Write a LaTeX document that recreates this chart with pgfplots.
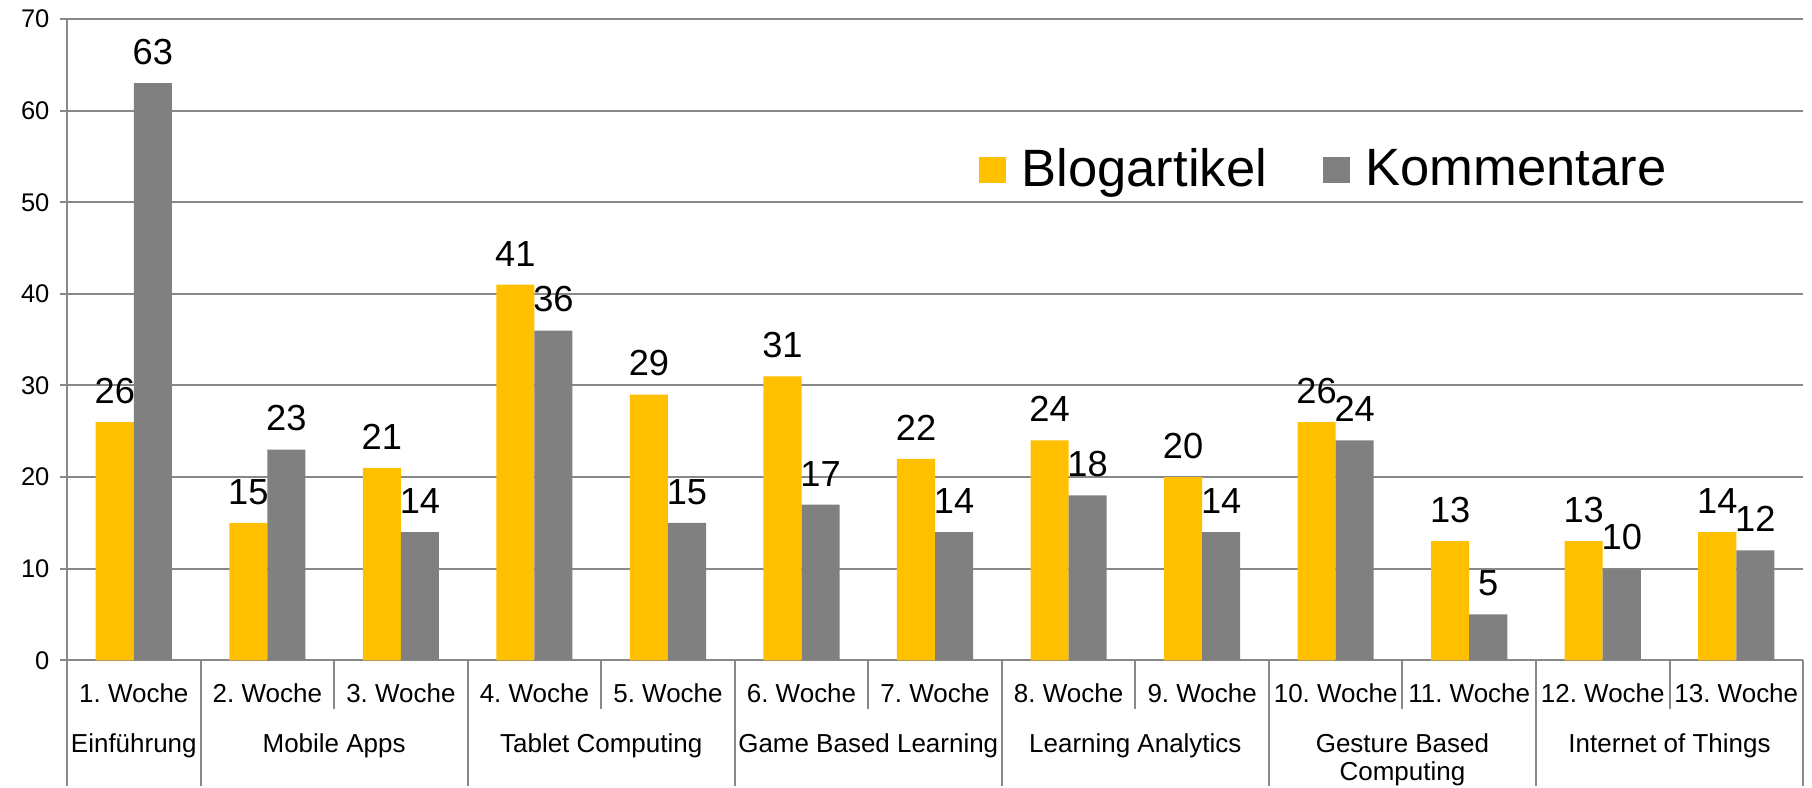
\documentclass[border=0pt]{standalone}
\usepackage{fontspec}
\setmainfont{Liberation Sans}
\usepackage{pgfplots}
\pgfplotsset{compat=1.18}
\frenchspacing

\definecolor{gelb}{HTML}{FFC000}
\definecolor{grau}{HTML}{808080}
\definecolor{linie}{HTML}{888888}

\begin{document}
\begin{tikzpicture}
\begin{axis}[
    scale only axis,
    width=574.8pt, height=212.3pt,
    xmin=-0.5, xmax=12.5,
    ymin=0, ymax=70,
    ytick={0,10,...,70},
    xtick={0,...,12},
    xticklabels={1. Woche,2. Woche,3. Woche,4. Woche,5. Woche,6. Woche,7. Woche,
                 8. Woche,9. Woche,10. Woche,11. Woche,12. Woche,13. Woche},
    xticklabel style={font=\fontsize{8.6}{10}\selectfont, anchor=base, yshift=-11.8pt},
    yticklabel style={font=\fontsize{8.45}{10}\selectfont},
    /pgf/number format/assume math mode=true,
    axis x line*=bottom, axis y line*=left,
    axis line style={linie, line width=0.66pt},
    x tick style={draw=none},
    y tick style={linie, line width=0.66pt},
    tick align=outside,
    major tick length=2.3pt,
    ymajorgrids,
    grid style={linie, line width=0.66pt},
    ybar=0pt,
    bar width=0.285,
    nodes near coords,
    every node near coord/.append style={font=\fontsize{12}{14}\selectfont, black, yshift=2.6pt},
    legend style={at={(0.5248,0.7644)}, anchor=west, draw=none, fill=none,
        legend columns=2, font=\fontsize{17.4}{20}\selectfont, inner sep=0pt,
        /tikz/every odd column/.append style={column sep=3.3pt},
        /tikz/every even column/.append style={column sep=16.5pt}},
    legend image code/.code={\fill[#1] (0pt,-4.4pt) rectangle (8.9pt,4.4pt);},
    clip=false,
]
\addplot[fill=gelb, draw=none, bar shift=-0.1425] coordinates {
    (0,26) (1,15) (2,21) (3,41) (4,29) (5,31) (6,22)
    (7,24) (8,20) (9,26) (10,13) (11,13) (12,14)
};
\addplot[fill=grau, draw=none, bar shift=0.1425] coordinates {
    (0,63) (1,23) (2,14) (3,36) (4,15) (5,17) (6,14)
    (7,18) (8,14) (9,24) (10,5) (11,10) (12,12)
};
\legend{Blogartikel, Kommentare}

% Trennlinien der Achsenbeschriftung
\pgfplotsinvokeforeach{-0.5,0.5,2.5,4.5,6.5,8.5,10.5,12.5}{
    \draw[linie, line width=0.66pt] (axis cs:#1,0) -- (axis cs:#1,-13.76);
}
\pgfplotsinvokeforeach{1.5,3.5,5.5,7.5,9.5,11.5}{
    \draw[linie, line width=0.66pt] (axis cs:#1,0) -- (axis cs:#1,-5.35);
}

% Themen
\tikzset{grp/.style={font=\fontsize{8.6}{10}\selectfont, anchor=base, inner sep=0pt}}
\node[grp] at (axis cs:0,-10.05) {Einführung};
\node[grp] at (axis cs:1.5,-10.05) {Mobile Apps};
\node[grp] at (axis cs:3.5,-10.05) {Tablet Computing};
\node[grp] at (axis cs:5.5,-10.05) {Game Based Learning};
\node[grp] at (axis cs:7.5,-10.05) {Learning Analytics};
\node[grp] at (axis cs:9.5,-10.05) {Gesture Based};
\node[grp] at (axis cs:9.5,-13.1) {Computing};
\node[grp] at (axis cs:11.5,-10.05) {Internet of Things};

\path (axis cs:-1.002,72.07) (axis cs:12.567,-13.76);
\end{axis}
\end{tikzpicture}
\end{document}
